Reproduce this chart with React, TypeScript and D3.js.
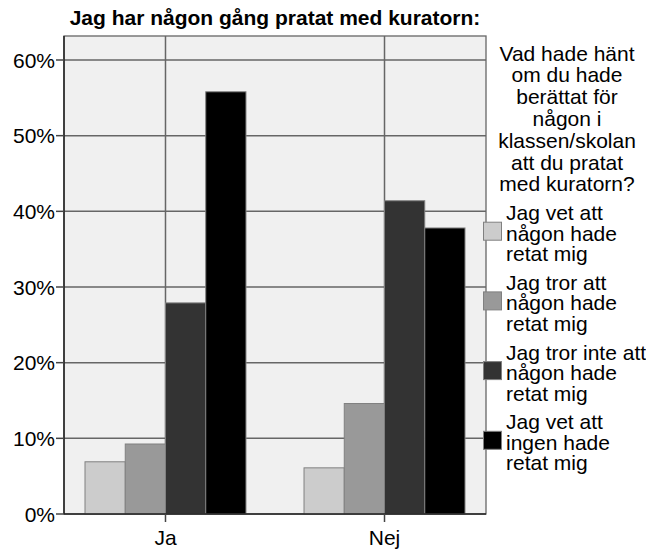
import React from "react";
import * as d3 from "d3";

const categories = ["Ja", "Nej"];
const seriesNames = [
  "Jag vet att någon hade retat mig",
  "Jag tror att någon hade retat mig",
  "Jag tror inte att någon hade retat mig",
  "Jag vet att ingen hade retat mig",
];
const seriesLabelLines = [
  ["Jag vet att", "någon hade", "retat mig"],
  ["Jag tror att", "någon hade", "retat mig"],
  ["Jag tror inte att", "någon hade", "retat mig"],
  ["Jag vet att", "ingen hade", "retat mig"],
];
const valuesJa = [6.9, 9.25, 27.9, 55.8];
const valuesNej = [6.1, 14.6, 41.4, 37.8];
const yTicks = [0, 10, 20, 30, 40, 50, 60];
const colors = ["#cccccc", "#999999", "#333333", "#000000"];
const title = "Jag har någon gång pratat med kuratorn:";
const legendTitleLines = [
  "Vad hade hänt",
  "om du hade",
  "berättat för",
  "någon i",
  "klassen/skolan",
  "att du pratat",
  "med kuratorn?",
];

export default function App() {
  const W = 646, H = 549;
  const left = 64, right = 486, top = 36, bottom = 514;
  const font = "'Liberation Sans', Arial, sans-serif";
  const fs = 21;

  const y = d3.scaleLinear().domain([0, 60]).range([bottom, 60]);
  const x0 = d3.scaleBand<string>().domain(categories).range([left, right])
    .paddingInner(0.265).paddingOuter(0.0959);
  const x1 = d3.scaleBand<string>().domain(seriesNames).range([0, x0.bandwidth()]);
  const table = categories.map((c, i) => ({ cat: c, vals: i === 0 ? valuesJa : valuesNej }));

  const grid = "#666666";

  return (
    <svg width={W} height={H} style={{ position: "absolute", left: 0, top: 0, background: "#fff" }}
      fontFamily={font}>
      <text x={275} y={25} textAnchor="middle" fontWeight="bold" fontSize={fs}>{title}</text>
      <rect x={left} y={top} width={right - left} height={bottom - top} fill="#f0f0f0" stroke={grid} strokeWidth={1.3} />
      {yTicks.filter(t => t > 0).map(t => (
        <line key={"g" + t} x1={left} x2={right} y1={y(t)} y2={y(t)} stroke={grid} strokeWidth={1.5} />
      ))}
      {categories.map(c => {
        const cx = (x0(c) ?? 0) + x0.bandwidth() / 2;
        return <line key={"v" + c} x1={cx} x2={cx} y1={top} y2={bottom} stroke={grid} strokeWidth={1.5} />;
      })}
      {table.map(row => (
        <g key={row.cat} transform={`translate(${x0(row.cat)},0)`}>
          {row.vals.map((v, i) => (
            <rect key={i} x={x1(seriesNames[i])} y={y(v)} width={x1.bandwidth()} height={bottom - y(v)}
              fill={colors[i]} stroke="#808080" strokeWidth={1} />
          ))}
        </g>
      ))}
      <line x1={left} x2={left} y1={top} y2={bottom} stroke="#222" strokeWidth={1.5} />
      <line x1={left} x2={right} y1={bottom} y2={bottom} stroke="#222" strokeWidth={1.5} />
      {yTicks.map(t => (
        <g key={"t" + t}>
          <line x1={left - 8} x2={left} y1={y(t)} y2={y(t)} stroke="#444" strokeWidth={1.5} />
          <text x={left - 9} y={y(t)} dy="0.36em" textAnchor="end" fontSize={fs}>{t + "%"}</text>
        </g>
      ))}
      {categories.map(c => {
        const cx = (x0(c) ?? 0) + x0.bandwidth() / 2;
        return (
          <g key={"x" + c}>
            <line x1={cx} x2={cx} y1={bottom} y2={bottom + 8} stroke="#444" strokeWidth={1.5} />
            <text x={cx} y={545} textAnchor="middle" fontSize={fs}>{c}</text>
          </g>
        );
      })}
      {legendTitleLines.map((l, i) => (
        <text key={"lt" + i} x={567} y={53 + i * 21.8} dy="0.36em" textAnchor="middle" fontSize={fs}>{l}</text>
      ))}
      {seriesLabelLines.map((lines, i) => {
        const y0 = 212.7 + i * 69.7;
        return (
          <g key={"li" + i}>
            <rect x={483.5} y={y0 + 20.5 - 11} width={18} height={18} fill={colors[i]} stroke="#808080" strokeWidth={1} />
            {lines.map((l, j) => (
              <text key={j} x={506} y={y0 + j * 20.5} dy="0.36em" fontSize={fs}>{l}</text>
            ))}
          </g>
        );
      })}
    </svg>
  );
}
